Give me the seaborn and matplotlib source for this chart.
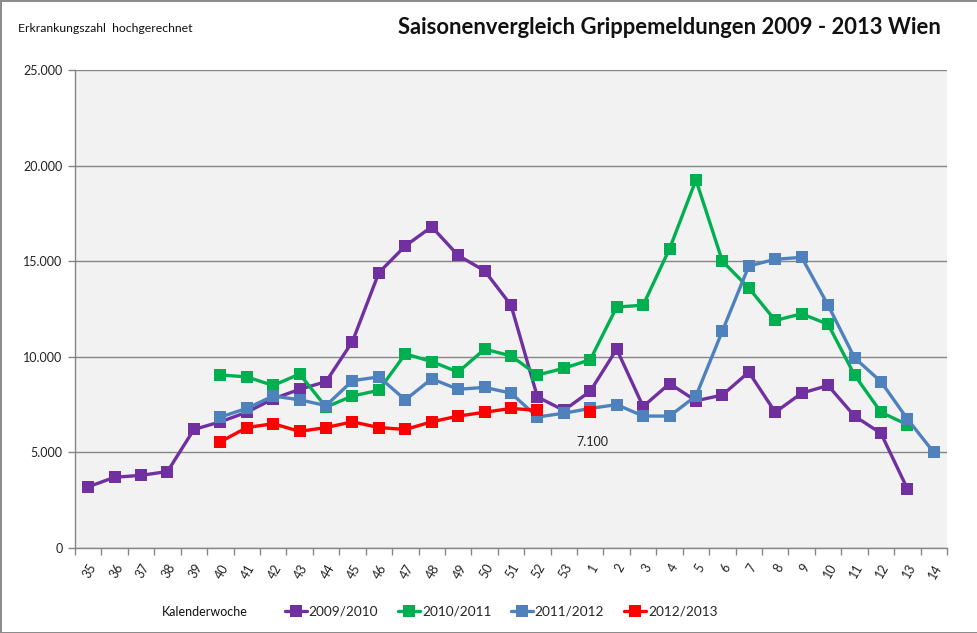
import numpy as np
import pandas as pd
import matplotlib
matplotlib.use("Agg")
import matplotlib.pyplot as plt
from matplotlib.lines import Line2D
from matplotlib.ticker import FixedLocator
import seaborn as sns

weeks = [str(w) for w in range(35, 54)] + [str(w) for w in range(1, 15)]
seasons = ["2009/2010", "2010/2011", "2011/2012", "2012/2013"]
colors = ["#7030A0", "#00B050", "#4F81BD", "#FF0000"]

s0910 = [3200, 3700, 3800, 4000, 6200, 6600, 7100, 7800, 8300, 8700,
         10800, 14400, 15800, 16800, 15300, 14500, 12700, 7900, 7200,
         8200, 10400, 7400, 8600, 7700, 8000, 9200, 7100, 8100, 8500,
         6900, 6000, 3100, None]
s1011 = [None, None, None, None, None, 9050, 8950, 8500, 9100, 7370,
         7950, 8250, 10150, 9750, 9200, 10400, 10050, 9050, 9400,
         9850, 12600, 12700, 15650, 19250, 15000, 13600, 11900, 12250, 11700,
         9050, 7100, 6450, None]
s1112 = [None, None, None, None, None, 6850, 7300, 7950, 7750, 7450,
         8750, 8950, 7750, 8850, 8300, 8400, 8100, 6850, 7050,
         7300, 7500, 6900, 6900, 7950, 11350, 14750, 15100, 15200, 12700,
         9950, 8700, 6750, 5000]
s1213 = [None, None, None, None, None, 5550, 6300, 6500, 6100, 6300,
         6600, 6300, 6200, 6600, 6900, 7100, 7300, 7200, None,
         7100, None, None, None, None, None, None, None, None, None,
         None, None, None, None]
series = [s0910, s1011, s1112, s1213]

y_ticks = [0, 5000, 10000, 15000, 20000, 25000]
annot_week = "1"
annot_value = 7100

rows = []
for name, vals in zip(seasons, series):
    seg = 0
    prev_none = True
    for i, v in enumerate(vals):
        if v is None:
            prev_none = True
            continue
        if prev_none:
            seg += 1
        prev_none = False
        rows.append({"pos": i, "value": v, "season": name, "segment": seg})
df = pd.DataFrame(rows)

sns.set_style("white")
plt.rcParams["font.family"] = ["Lato", "DejaVu Sans"]

W, H = 978, 633
fig = plt.figure(figsize=(W / 100, H / 100), dpi=100,
                 facecolor="white", edgecolor="#8c8c8c", linewidth=2)
ax = fig.add_axes([75 / W, (H - 548) / H, (947 - 75) / W, (548 - 70) / H])
ax.set_facecolor("#F2F2F2")

sns.lineplot(data=df, x="pos", y="value", hue="season", units="segment",
             estimator=None, palette=dict(zip(seasons, colors)),
             hue_order=seasons, marker="s", markersize=8.5,
             markeredgewidth=0, linewidth=2.4, legend=False, ax=ax,
             sort=True)

n = len(weeks)
ax.set_xlim(-0.5, n - 0.5)
ax.set_ylim(0, 25000)
ax.set_yticks(y_ticks)
ax.set_yticklabels([f"{v:,}".replace(",", ".") for v in y_ticks])
ax.yaxis.grid(True, color="#868686", linewidth=1)
ax.xaxis.grid(False)
ax.set_axisbelow(True)

ax.set_xticks(range(n))
ax.set_xticklabels(weeks, rotation=60, ha="right", va="top",
                   rotation_mode="anchor")
ax.xaxis.set_minor_locator(FixedLocator(np.arange(-0.5, n, 1.0)))
ax.tick_params(axis="x", which="major", length=0, pad=10, labelsize=9,
               colors="#222222")
ax.tick_params(axis="x", which="minor", length=5, width=1, color="#868686",
               direction="out", bottom=True)
ax.tick_params(axis="y", which="major", length=5, width=1, color="#868686",
               direction="out", left=True, labelsize=9, labelcolor="#222222",
               pad=4)
for side in ["top", "right"]:
    ax.spines[side].set_visible(False)
for side in ["left", "bottom"]:
    ax.spines[side].set_color("#868686")
    ax.spines[side].set_linewidth(1)
ax.set_xlabel("")
ax.set_ylabel("")

ax.annotate(f"{annot_value:,}".replace(",", "."),
            xy=(weeks.index(annot_week), annot_value),
            xytext=(2, -30), textcoords="offset pixels",
            ha="center", va="center", fontsize=9, color="#222222")

fig.text(18 / W, 1 - 29 / H, "Erkrankungszahl  hochgerechnet",
         fontsize=8.8, ha="left", va="center", color="#111111")
fig.text(941 / W, 1 - 27 / H, "Saisonenvergleich Grippemeldungen 2009 - 2013 Wien",
         fontsize=15.8, fontweight="bold", ha="right", va="center",
         color="#111111")
fig.text(162 / W, 1 - 612 / H, "Kalenderwoche", fontsize=9,
         ha="left", va="center", color="#111111")

handles = [Line2D([0], [0], color=c, linewidth=2.4, marker="s",
                  markersize=8.5, markeredgewidth=0) for c in colors]
fig.legend(handles, seasons, loc="center left",
           bbox_to_anchor=(285 / W, 1 - 612 / H), ncol=4, frameon=False,
           fontsize=9.8, handlelength=1.6, handletextpad=0.15,
           columnspacing=1.45, borderaxespad=0, borderpad=0)

fig.savefig("out.png", dpi=100)
